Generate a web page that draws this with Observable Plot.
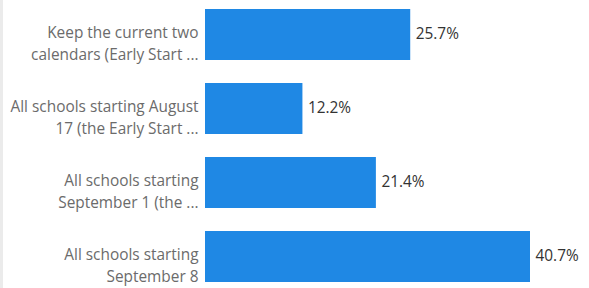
<!DOCTYPE html>
<html>
<head>
<meta charset="utf-8">
<script src="https://cdn.jsdelivr.net/npm/d3@7"></script>
<script src="https://cdn.jsdelivr.net/npm/@observablehq/plot@0.6"></script>
<style>
  html, body { margin: 0; padding: 0; background: #fff; }
  #chart { position: relative; width: 589px; height: 288px; }
  #chart svg { position: absolute; left: 0; top: 0; }
  #edge { position: absolute; left: 0; top: 0; width: 3px; height: 288px; background: #ebebeb; }
</style>
</head>
<body>
<div id="chart"><div id="edge"></div></div>
<script>
const categories = [
  "Keep the current two\ncalendars (Early Start ...",
  "All schools starting August\n17 (the Early Start ...",
  "All schools starting\nSeptember 1 (the ...",
  "All schools starting\nSeptember 8"
];
const values = [25.7, 12.2, 21.4, 40.7];

const data = categories.map((c, i) => ({category: c, value: values[i]}));

const chart = Plot.plot({
  width: 589,
  height: 288,
  marginLeft: 205,
  marginRight: 59,
  marginTop: 4,
  marginBottom: 2,
  style: {fontFamily: "'Open Sans', sans-serif", background: "transparent"},
  x: {domain: [0, 40.7], axis: null},
  y: {domain: categories, axis: null, paddingInner: 0.315, paddingOuter: 0.05},
  marks: [
    Plot.barX(data, {y: "category", x: "value", fill: "#1f88e4"}),
    Plot.text(data, {
      y: "category", x: 0, text: "category", textAnchor: "end", dx: -7, dy: 7,
      lineHeight: 1.45, fontSize: 15.4, fill: "#6b6b6b"
    }),
    Plot.text(data, {
      y: "category", x: "value", text: d => d.value.toFixed(1) + "%", textAnchor: "start", dx: 5, dy: -1,
      fontSize: 15.4, fill: "#333"
    })
  ]
});
document.getElementById("chart").appendChild(chart);
</script>
</body>
</html>
